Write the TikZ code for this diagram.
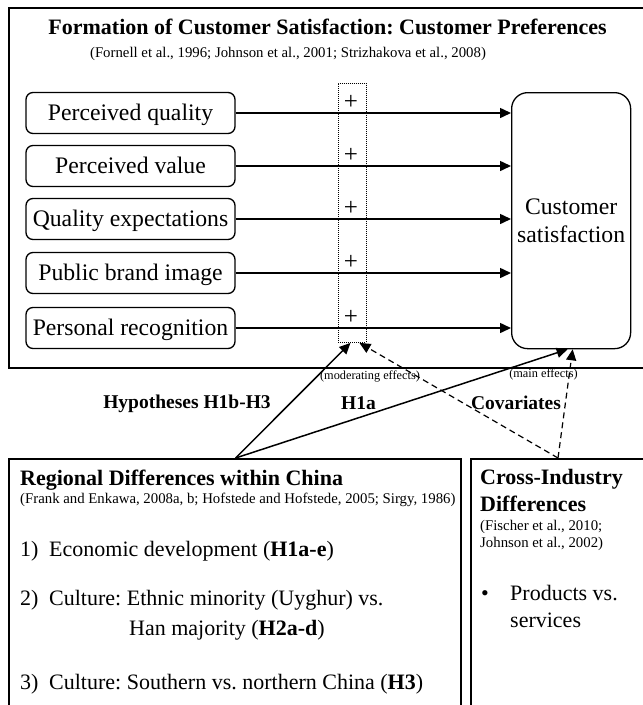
\documentclass[tikz,border=0pt]{standalone}
\usepackage{fontspec}
\setmainfont{Liberation Serif}
\usetikzlibrary{arrows.meta}
\frenchspacing
\begin{document}
\frenchspacing
\begin{tikzpicture}[x=1pt,y=-1pt,
  frame/.style={draw, line width=2pt, inner sep=0pt, anchor=north west},
  factor/.style={draw, line width=1.3pt, rounded corners=7pt, minimum width=209pt, minimum height=41pt, inner sep=0pt, font=\fontsize{23.7}{28}\selectfont, text height=17.5pt, text depth=2.5pt},
  csbox/.style={draw, line width=1.3pt, rounded corners=16pt, minimum width=119pt, minimum height=256pt, inner sep=0pt, align=center, font=\fontsize{23.7}{28}\selectfont, anchor=north west},
  modbox/.style={draw, line width=0.9pt, dash pattern=on 1pt off 1pt, minimum width=28pt, minimum height=259pt, inner sep=0pt, anchor=north west},
  plus/.style={inner sep=0pt, font=\fontsize{25}{28}\selectfont},
  arr/.style={line width=1.5pt, -{Triangle[length=11pt,width=10pt]}},
  darr/.style={line width=1.2pt, dash pattern=on 6pt off 4pt, -{Triangle[length=11pt,width=10pt]}},
  small/.style={inner sep=0pt, font=\fontsize{12.3}{14}\selectfont},
  lab/.style={inner sep=0pt, font=\fontsize{19.5}{23}\selectfont\bfseries},
  ttl/.style={inner sep=0pt, font=\fontsize{22}{26}\selectfont\bfseries},
  cite/.style={inner sep=0pt, font=\fontsize{14.8}{17}\selectfont},
  body/.style={inner sep=0pt, font=\fontsize{22}{26}\selectfont}
]
\useasboundingbox (0,0) rectangle (643,705);
\clip (0,0) rectangle (643,705);
\fill[white] (0,0) rectangle (643,705);

% top frame
\node[frame, minimum width=650pt, minimum height=360pt] (top) at (8,7) {};
\node[ttl, anchor=base] (title) at (327.5,34) {Formation of Customer Satisfaction: Customer Preferences};
\node[cite, anchor=base] (tcite) at (288,57) {(Fornell et al., 1996; Johnson et al., 2001; Strizhakova et al., 2008)};

% factors
\node[factor] (pq)  at (130.5,113) {Perceived quality};
\node[factor] (pv)  at (130.5,166) {Perceived value};
\node[factor] (qe)  at (130.5,219) {Quality expectations};
\node[factor] (pbi) at (130.5,273) {Public brand image};
\node[factor] (pr)  at (130.5,328) {Personal recognition};

\node[csbox] (cs) at (511,92) {Customer\\satisfaction};
\node[modbox] (mod) at (338,83) {};

\node[plus] (p1) at (351,102) {+};
\node[plus] (p2) at (351,155) {+};
\node[plus] (p3) at (351,208) {+};
\node[plus] (p4) at (351,262) {+};
\node[plus] (p5) at (351,317) {+};

\foreach \n in {pq,pv,qe,pbi,pr}
  \draw[arr] (\n.east) -- (\n.east -| cs.west);

% bottom frames
\node[frame, minimum width=451.5pt, minimum height=260pt] (reg) at (8,458) {};
\node[frame, minimum width=190pt, minimum height=260pt] (cross) at (469.5,458) {};

\coordinate (hub) at (reg.north -| pq.east);
\coordinate (covhub) at (558,458);

\draw[arr] (hub) -- ([xshift=-2pt]mod.south);
\draw[arr] (hub) -- ([xshift=-3.5pt]cs.south);
\draw[darr] (covhub) -- ([xshift=7pt]mod.south);
\draw[darr] (covhub) -- ([xshift=1.5pt]cs.south);

% labels
\node[small] (modlab) at (370,376) {(moderating effects)};
\node[small] (mainlab) at (543.5,374) {(main effects)};
\node[lab] (hyp) at (187,404) {Hypotheses H1b-H3};
\node[lab] (h1a) at (358.5,403) {H1a};
\node[lab] (cov) at (516,403) {Covariates};

% regional box text
\node[ttl, anchor=base west] (regt) at (20,485) {Regional Differences within China};
\node[cite, anchor=base west] (regc) at (20,503) {(Frank and Enkawa, 2008a, b; Hofstede and Hofstede, 2005; Sirgy, 1986)};
\node[body, anchor=base west] (i1) at (20,556) {\makebox[29pt][l]{1)}Economic development (\textbf{H1a-e})};
\node[body, anchor=base west] (i2) at (20,605) {\makebox[29pt][l]{2)}Culture: Ethnic minority (Uyghur) vs.};
\node[body, anchor=base west] (i2b) at (129,635) {Han majority (\textbf{H2a-d})};
\node[body, anchor=base west] (i3) at (20,689) {\makebox[29pt][l]{3)}Culture: Southern vs. northern China (\textbf{H3})};

% cross-industry text
\node[ttl, anchor=base west] (crt1) at (480,484) {Cross-Industry};
\node[ttl, anchor=base west] (crt2) at (480,511) {Differences};
\node[cite, anchor=base west] (crc1) at (480,530) {(Fischer et al., 2010;};
\node[cite, anchor=base west] (crc2) at (480,547) {Johnson et al., 2002)};
\node[body, anchor=base west] (bul) at (481,600) {\textbullet};
\node[body, anchor=base west] (pr1) at (510,600) {Products vs.};
\node[body, anchor=base west] (pr2) at (510,627) {services};
\end{tikzpicture}
\end{document}
